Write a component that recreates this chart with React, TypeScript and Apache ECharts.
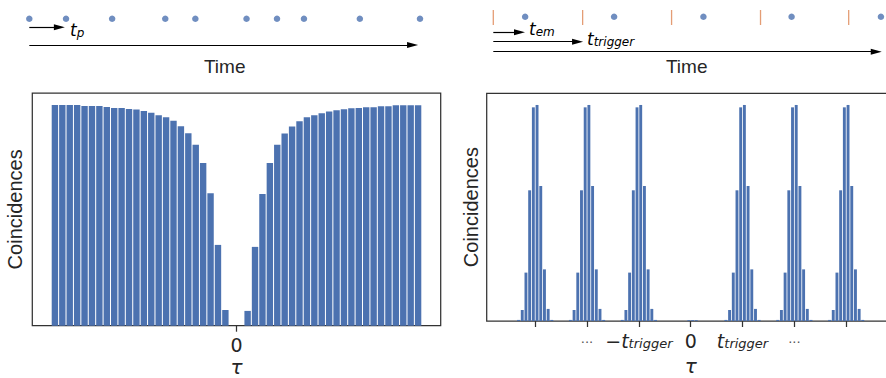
import React, { useEffect, useRef } from 'react';
import * as echarts from 'echarts';

// ---------- Left panel: continuous source, antibunching dip ----------
const leftTau = [
  -24.5, -23.5, -22.5, -21.5, -20.5, -19.5, -18.5, -17.5, -16.5, -15.5, -14.5, -13.5,
  -12.5, -11.5, -10.5, -9.5, -8.5, -7.5, -6.5, -5.5, -4.5, -3.5, -2.5, -1.5,
  -0.5, 0.5,
  1.5, 2.5, 3.5, 4.5, 5.5, 6.5, 7.5, 8.5, 9.5, 10.5, 11.5, 12.5,
  13.5, 14.5, 15.5, 16.5, 17.5, 18.5, 19.5, 20.5, 21.5, 22.5, 23.5, 24.5,
];
const leftCounts = [
  1000, 1000, 1000, 1000, 995, 995, 995, 991, 986, 986, 982, 979,
  973, 964, 953, 944, 928, 903, 872, 820, 737, 600, 366, 71,
  0, 0,
  67, 357, 597, 737, 820, 870, 902, 926, 944, 953, 962, 970,
  976, 980, 985, 986, 990, 990, 994, 994, 999, 999, 999, 999,
];

// ---------- Right panel: pulsed source ----------
const rightTau = [
  -46.5, -45.5, -44.5, -43.5, -42.5, -41.5, -40.5, -39.5, -38.5, -37.5,
  -32.5, -31.5, -30.5, -29.5, -28.5, -27.5, -26.5, -25.5, -24.5, -23.5,
  -18.5, -17.5, -16.5, -15.5, -14.5, -13.5, -12.5, -11.5, -10.5, -9.5,
  -0.5, 0.5, 1.5,
  9.5, 10.5, 11.5, 12.5, 13.5, 14.5, 15.5, 16.5, 17.5, 18.5,
  23.5, 24.5, 25.5, 26.5, 27.5, 28.5, 29.5, 30.5, 31.5, 32.5,
  37.5, 38.5, 39.5, 40.5, 41.5, 42.5, 43.5, 44.5, 45.5, 46.5,
];
const rightCounts = [
  5, 51, 224, 605, 989, 1000, 625, 239, 56, 5,
  5, 51, 224, 605, 989, 1000, 625, 239, 56, 5,
  5, 51, 224, 605, 989, 1000, 625, 239, 56, 5,
  4, 4, 4,
  5, 51, 224, 605, 989, 1000, 625, 239, 56, 5,
  5, 51, 224, 605, 989, 1000, 625, 239, 56, 5,
  5, 51, 224, 605, 989, 1000, 625, 239, 56, 5,
];
const rightTickValues = [-42, -28, -14, 0, 14, 28, 42];
const rightLabelValues = [-28, -14, 0, 14, 28];
const rightLabelTexts = ['{d|...}', '{m|\u2212t}{s|trigger}', '{n|0}', '{m|t}{s|trigger}', '{d|...}'];
const leftLabelValues = [0];

// ---------- Timelines (units: 0..100 along each time arrow) ----------
const photonTimes = [0, 9.4, 21.2, 34.8, 42.5, 55.6, 63.4, 70.3, 84.6, 100];
const triggerTimes = [0, 23.0, 45.9, 68.8, 91.5];
const emissionTimes = [8.2, 31.1, 54.1, 76.8, 99.8];
const tpArrow = [0, 7.7];
const leftTimeArrow = [0, 98.1];
const temArrow = [0, 6.75];
const ttriggerArrow = [0, 21.7];
const rightTimeArrow = [0, 98.6];

const INK = '#262626';
const FRAME = '#333333';
const BLUE = '#4c72b0';
const ORANGE = '#dd8452';
const MATH = "'DejaVu Sans', sans-serif";
const SANS = "'Liberation Sans', Arial, sans-serif";

const mathRich = (main: number, sub: number) => ({
  m: { fontFamily: MATH, fontStyle: 'italic', fontSize: main, lineHeight: main, verticalAlign: 'top', color: INK },
  s: { fontFamily: MATH, fontStyle: 'italic', fontSize: sub, lineHeight: sub, verticalAlign: 'bottom', color: INK },
  n: { fontFamily: MATH, fontSize: main, lineHeight: main, color: INK },
  d: { fontFamily: MATH, fontSize: 13, lineHeight: 13, padding: [2, 0, 0, 0], color: '#555555' },
});

export default function App() {
  const ref = useRef<HTMLDivElement>(null);
  useEffect(() => {
    if (!ref.current) return;
    const chart = echarts.init(ref.current, null, { renderer: 'svg' });
    const arrowLine = (xs: number[], row: number) => ({ coords: [[xs[0], row], [xs[1], row]] });
    const option: any = {
      animation: false,
      grid: [
        { left: 32.3, top: 93, width: 408.4, height: 232.7, show: true, borderColor: FRAME, borderWidth: 1.25, containLabel: false, outerBoundsMode: 'none' },
        { left: 486.7, top: 93.3, width: 408, height: 227.7, show: true, borderColor: FRAME, borderWidth: 1.25, containLabel: false, outerBoundsMode: 'none' },
        { left: 29.3, top: 0, width: 390.7, height: 60, outerBoundsMode: 'none' },
        { left: 493.3, top: 0, width: 388.4, height: 60, outerBoundsMode: 'none' },
      ],
      xAxis: [
        {
          gridIndex: 0, type: 'value', min: -27.55, max: 27.55,
          axisLine: { show: false }, splitLine: { show: false },
          axisTick: { customValues: leftLabelValues, length: 6, lineStyle: { color: FRAME, width: 1.25 } },
          axisLabel: { customValues: leftLabelValues, fontSize: 19, lineHeight: 19, fontFamily: MATH, color: INK, margin: 10 },
          name: '\u03c4', nameLocation: 'middle', nameGap: 31, nameMoveOverlap: false,
          nameTextStyle: { fontSize: 20, lineHeight: 20, fontFamily: MATH, fontStyle: 'italic', color: INK },
        },
        {
          gridIndex: 1, type: 'value', min: -55.1, max: 55.1,
          axisLine: { show: false }, splitLine: { show: false },
          axisTick: { customValues: rightTickValues, length: 6, lineStyle: { color: FRAME, width: 1.25 } },
          axisLabel: {
            customValues: rightLabelValues, margin: 10, fontSize: 19, lineHeight: 19, fontFamily: MATH, color: INK,
            formatter: (v: number) => rightLabelTexts[rightLabelValues.indexOf(v)] ?? '',
            rich: mathRich(19, 13),
          },
          name: '\u03c4', nameLocation: 'middle', nameGap: 35, nameMoveOverlap: false,
          nameTextStyle: { fontSize: 20, lineHeight: 20, fontFamily: MATH, fontStyle: 'italic', color: INK },
        },
        { gridIndex: 2, type: 'value', min: 0, max: 100, show: false },
        { gridIndex: 3, type: 'value', min: 0, max: 100, show: false },
      ],
      yAxis: [
        {
          gridIndex: 0, type: 'value', min: 0, max: 1054,
          axisLine: { show: false }, axisTick: { show: false }, axisLabel: { show: false }, splitLine: { show: false },
          name: 'Coincidences', nameLocation: 'middle', nameGap: 7, nameRotate: 90, nameMoveOverlap: false,
          nameTextStyle: { fontSize: 20, fontFamily: SANS, color: INK },
        },
        {
          gridIndex: 1, type: 'value', min: 0, max: 1054,
          axisLine: { show: false }, axisTick: { show: false }, axisLabel: { show: false }, splitLine: { show: false },
          name: 'Coincidences', nameLocation: 'middle', nameGap: 6, nameRotate: 90, nameMoveOverlap: false,
          nameTextStyle: { fontSize: 20, fontFamily: SANS, color: INK },
        },
        { gridIndex: 2, type: 'value', min: 0, max: 60, inverse: true, show: false },
        { gridIndex: 3, type: 'value', min: 0, max: 60, inverse: true, show: false },
      ],
      series: [
        {
          type: 'bar', xAxisIndex: 0, yAxisIndex: 0, barWidth: 6.4,
          itemStyle: { color: BLUE },
          data: leftTau.map((t, i) => [t, leftCounts[i]]),
        },
        {
          type: 'bar', xAxisIndex: 1, yAxisIndex: 1, barWidth: 2.9,
          itemStyle: { color: BLUE },
          data: rightTau.map((t, i) => [t, rightCounts[i]]),
        },
        {
          type: 'scatter', xAxisIndex: 2, yAxisIndex: 2, symbolSize: 6.5, clip: false,
          itemStyle: { color: BLUE },
          data: photonTimes.map((t) => [t, 18.7]),
        },
        {
          type: 'lines', coordinateSystem: 'cartesian2d', xAxisIndex: 2, yAxisIndex: 2, clip: false,
          symbol: ['none', 'triangle'], symbolSize: [[6, 11], [6, 11]],
          lineStyle: { color: '#000000', width: 1.2, opacity: 1 },
          data: [arrowLine(tpArrow, 27.3), arrowLine(leftTimeArrow, 45)],
        },
        {
          type: 'scatter', xAxisIndex: 3, yAxisIndex: 3, symbol: 'rect', symbolSize: [1.3, 15], clip: false,
          itemStyle: { color: ORANGE },
          data: triggerTimes.map((t) => [t, 17.5]),
        },
        {
          type: 'scatter', xAxisIndex: 3, yAxisIndex: 3, symbolSize: 6.5, clip: false,
          itemStyle: { color: BLUE },
          data: emissionTimes.map((t) => [t, 16.7]),
        },
        {
          type: 'lines', coordinateSystem: 'cartesian2d', xAxisIndex: 3, yAxisIndex: 3, clip: false,
          symbol: ['none', 'triangle'], symbolSize: [[6, 11], [6, 11]],
          lineStyle: { color: '#000000', width: 1.2, opacity: 1 },
          data: [arrowLine(temArrow, 32.3), arrowLine(ttriggerArrow, 41.7), arrowLine(rightTimeArrow, 51.7)],
        },
      ],
      graphic: [
        { type: 'text', x: 224.7, y: 66, style: { text: 'Time', align: 'center', verticalAlign: 'middle', fontSize: 19, fontFamily: SANS, fill: INK } },
        { type: 'text', x: 686.7, y: 66, style: { text: 'Time', align: 'center', verticalAlign: 'middle', fontSize: 19, fontFamily: SANS, fill: INK } },
        { type: 'text', x: 70, y: 30, style: { text: '{m|t}{s|p}', align: 'left', verticalAlign: 'middle', rich: mathRich(17, 12) } },
        { type: 'text', x: 529, y: 29.2, style: { text: '{m|t}{s|em}', align: 'left', verticalAlign: 'middle', rich: mathRich(17, 12) } },
        { type: 'text', x: 587, y: 39.2, style: { text: '{m|t}{s|trigger}', align: 'left', verticalAlign: 'middle', rich: mathRich(17, 12) } },
      ],
    };
    chart.setOption(option);
    return () => chart.dispose();
  }, []);
  return (
    <div
      ref={ref}
      style={{ position: 'fixed', left: 0, top: 0, width: 900, height: 378, background: '#ffffff' }}
    />
  );
}
